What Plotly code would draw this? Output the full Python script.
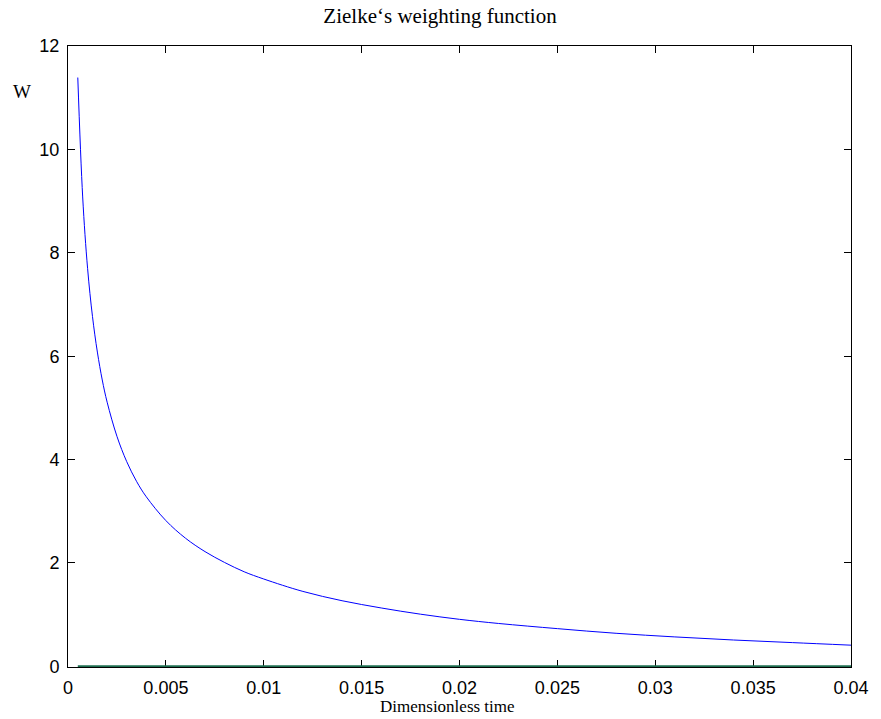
import plotly.graph_objects as go

# Dimensionless time (x) and weighting function W (y)
tau = [0.0005, 0.00075, 0.001, 0.00125, 0.0015, 0.00175, 0.002, 0.0025, 0.003,
       0.0035, 0.004, 0.005, 0.006, 0.007, 0.008, 0.009, 0.010, 0.012, 0.014,
       0.016, 0.018, 0.020, 0.022, 0.025, 0.028, 0.031, 0.034, 0.037, 0.040]
W = [11.39, 9.08, 7.70, 6.77, 6.08, 5.54, 5.11, 4.45, 3.96,
     3.58, 3.28, 2.82, 2.48, 2.22, 2.01, 1.83, 1.69, 1.45, 1.27,
     1.13, 1.01, 0.91, 0.83, 0.73, 0.64, 0.57, 0.51, 0.46, 0.41]

zero_x = [0.0005, 0.040]
zero_y = [0, 0]

x_ticks = [0, 0.005, 0.01, 0.015, 0.02, 0.025, 0.03, 0.035, 0.04]
x_tick_text = ["0", "0.005", "0.01", "0.015", "0.02", "0.025", "0.03", "0.035", "0.04"]
y_ticks = [0, 2, 4, 6, 8, 10, 12]

fig = go.Figure()
fig.add_trace(go.Scatter(x=tau, y=W, mode="lines", line=dict(color="#0000ff", width=1, shape="spline"),
                         showlegend=False, hoverinfo="skip"))
fig.add_trace(go.Scatter(x=zero_x, y=zero_y, mode="lines", line=dict(color="rgb(30,110,80)", width=2.5),
                         showlegend=False, hoverinfo="skip"))

W_px, H_px = 881, 719
ml, mr, mt, mb = 67.5, 25, 45.7, 51.7

axis_common = dict(showgrid=False, zeroline=False, showline=True, linecolor="black", linewidth=1,
                   mirror="ticks", ticks="inside", ticklen=7, tickcolor="black", tickwidth=1,
                   layer="below traces",
                   tickfont=dict(family="Liberation Sans, Arial, sans-serif", size=18, color="black"))

fig.update_layout(
    width=W_px, height=H_px,
    margin=dict(l=ml, r=mr, t=mt, b=mb, pad=0),
    paper_bgcolor="white", plot_bgcolor="white",
    xaxis=dict(range=[0, 0.04], tickvals=x_ticks, ticktext=x_tick_text, ticklabelstandoff=4, **axis_common),
    yaxis=dict(range=[-0.012, 12], tickvals=y_ticks, ticklabelstandoff=4, **axis_common),
    title=dict(text="Zielke\u2018s weighting function", x=440 / W_px, xanchor="center",
               y=1 - 16 / H_px, yanchor="middle",
               font=dict(family="Liberation Serif, Times New Roman, serif", size=21, color="black")),
    annotations=[
        dict(text="W", xref="paper", yref="paper", x=0, y=(H_px - mb - 91.5) / (H_px - mt - mb),
             xanchor="center", yanchor="middle", xshift=21.7 - ml, showarrow=False,
             font=dict(family="Liberation Serif, Times New Roman, serif", size=19, color="black")),
        dict(text="Dimensionless time", xref="paper", yref="paper", x=(449.5 - ml) / (W_px - ml - mr), y=0,
             xanchor="center", yanchor="middle", yshift=-(707 - (H_px - mb)), showarrow=False,
             font=dict(family="Liberation Serif, Times New Roman, serif", size=17, color="black")),
    ],
)

fig.write_html("out.html")
